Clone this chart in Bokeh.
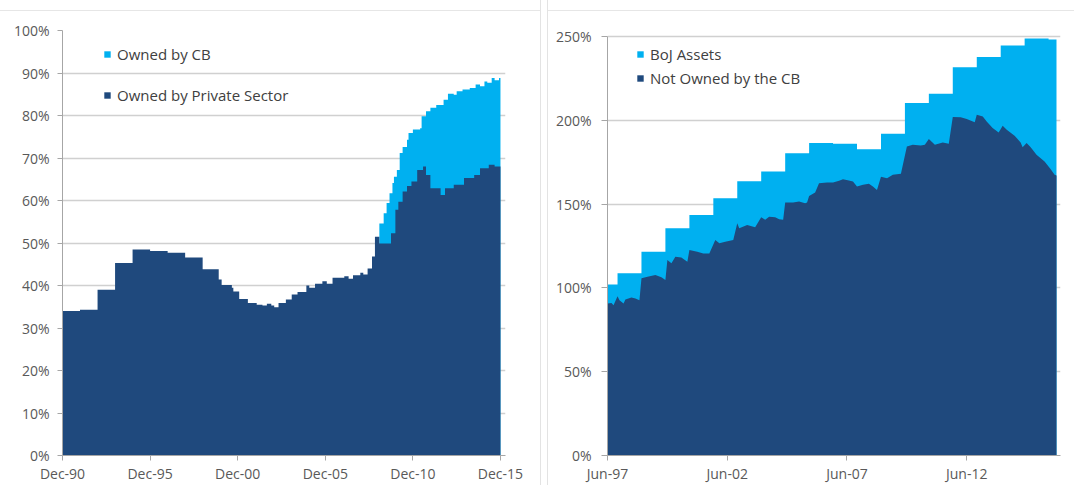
import pandas as pd
from bokeh.plotting import figure
from bokeh.layouts import row
from bokeh.models import (FixedTicker, DatetimeTickFormatter, PrintfTickFormatter,
                          Range1d, Legend, LegendItem)
from bokeh.embed import file_html
from bokeh.resources import INLINE

DARK = "#1F497D"
LIGHT = "#00B0F0"
FONT = "Open Sans"

# ---------------- Left panel data (% ) ----------------
left_private_dates = ["1990-12", "1991-12", "1992-12", "1993-12", "1994-12", "1995-12", "1996-12",
                      "1997-12", "1998-12", "1999-11", "2000-01", "2000-08", "2000-09", "2001-01",
                      "2001-07", "2002-01", "2002-05", "2002-08", "2002-11", "2003-01", "2003-04",
                      "2003-09", "2004-01", "2004-05", "2004-11", "2005-01", "2005-05", "2005-10",
                      "2006-01", "2006-05", "2007-01", "2007-04", "2007-07", "2007-12", "2008-02",
                      "2008-05", "2008-08", "2008-10", "2009-01", "2009-09", "2009-12", "2010-02",
                      "2010-05", "2010-08", "2010-11", "2011-03", "2011-07", "2011-09", "2011-12",
                      "2012-07", "2012-10", "2013-04", "2013-11", "2014-06", "2014-10", "2015-04",
                      "2015-08", "2015-12"]
left_private = [34.0, 34.3, 39.0, 45.3, 48.5, 48.1, 47.7, 46.6, 43.8, 41.4, 40.1, 39.5, 38.6, 36.8,
                35.9, 35.5, 35.3, 35.7, 35.3, 34.9, 35.9, 36.7, 37.9, 38.5, 40.0, 39.5, 40.4, 41.0,
                40.4, 41.8, 42.2, 41.6, 42.4, 43.0, 42.6, 44.0, 46.8, 51.5, 49.9, 52.3, 57.8, 59.7,
                62.1, 63.4, 64.5, 67.2, 68.0, 66.0, 62.9, 61.3, 62.9, 63.7, 65.3, 66.0, 67.6, 68.4,
                68.0, 68.0]

left_total_dates = ["2009-01", "2009-04", "2009-06", "2009-08", "2009-10", "2009-11", "2010-01",
                    "2010-03", "2010-05", "2010-08", "2010-09", "2010-12", "2011-05", "2011-06",
                    "2011-09", "2011-12", "2012-04", "2012-09", "2012-12", "2013-04", "2013-06",
                    "2013-10", "2014-03", "2014-07", "2014-10", "2015-01", "2015-03", "2015-06",
                    "2015-08", "2015-11", "2015-12"]
left_total = [54.6, 57.0, 59.4, 61.7, 64.1, 65.6, 67.2, 71.2, 72.6, 74.3, 75.9, 76.7, 77.0, 79.8,
              81.0, 81.8, 82.5, 83.7, 85.1, 84.9, 85.7, 86.1, 86.5, 87.3, 86.9, 88.0, 87.7, 88.8,
              88.3, 88.8, 88.8]

left_tick_dates = ["1990-12", "1995-12", "2000-12", "2005-12", "2010-12", "2015-12"]
left_y_ticks = [0, 10, 20, 30, 40, 50, 60, 70, 80, 90, 100]
left_labels = ["Owned by CB", "Owned by Private Sector"]

# ---------------- Right panel data (%) ----------------
right_dark_dates = ["1997-06", "1997-08", "1997-09", "1997-11", "1997-12", "1998-02", "1998-03",
                    "1998-06", "1998-08", "1998-10", "1998-11", "1999-02", "1999-06", "1999-09",
                    "1999-11", "1999-12", "2000-02", "2000-04", "2000-07", "2000-10", "2000-11",
                    "2001-03", "2001-06", "2001-09", "2001-12", "2002-02", "2002-05", "2002-09",
                    "2002-11", "2002-12", "2003-04", "2003-08", "2003-11", "2004-01", "2004-03",
                    "2004-06", "2004-08", "2004-10", "2004-11", "2005-03", "2005-06", "2005-09",
                    "2005-10", "2005-11", "2006-02", "2006-04", "2006-08", "2006-11", "2007-02",
                    "2007-04", "2007-07", "2007-09", "2007-11", "2008-02", "2008-05", "2008-07",
                    "2008-09", "2008-11", "2009-02", "2009-05", "2009-09", "2009-12", "2010-03",
                    "2010-07", "2010-09", "2010-11", "2011-02", "2011-06", "2011-09", "2011-11",
                    "2012-03", "2012-06", "2012-10", "2012-11", "2013-02", "2013-04", "2013-07",
                    "2013-10", "2013-12", "2014-02", "2014-06", "2014-09", "2014-10", "2014-12",
                    "2015-02", "2015-05", "2015-09", "2015-12", "2016-02", "2016-03"]
right_dark = [90.7, 91.0, 89.7, 95.1, 92.7, 90.7, 93.1, 94.3, 93.7, 92.7,
              105.7, 106.6, 107.7, 106.3, 104.7, 116.6, 114.7, 118.6, 118.2, 115.6,
              122.6, 121.6, 120.6, 120.6, 128.6, 126.6, 127.6, 128.6, 138.6, 135.6,
              137.6, 136.2, 142.2, 140.6, 142.5, 142.2, 141.0, 140.6, 150.9, 150.9,
              151.5, 150.5, 150.9, 154.9, 156.9, 162.5, 162.9, 162.9, 163.9, 164.9,
              164.1, 163.5, 160.5, 161.5, 162.1, 160.5, 158.5, 166.4, 165.5, 167.5,
              168.1, 184.4, 185.4, 185.0, 185.4, 188.8, 185.4, 186.8, 186.0, 202.0,
              201.8, 200.8, 198.8, 203.3, 202.3, 199.3, 195.4, 192.8, 196.8, 194.4,
              190.8, 186.8, 184.0, 186.4, 184.0, 179.4, 175.4, 170.9, 167.5, 167.1]

right_total_dates = ["1997-06", "1997-11", "1998-11", "1999-11", "2000-11", "2001-11", "2002-11",
                     "2003-11", "2004-11", "2005-11", "2006-11", "2007-11", "2008-11", "2009-11",
                     "2010-11", "2011-11", "2012-11", "2013-11", "2014-11", "2015-11", "2016-03"]
right_total = [102.1, 108.7, 121.6, 135.6, 143.5, 153.5, 163.7, 169.5, 180.4, 186.4, 186.0,
               182.8, 192.0, 210.3, 215.9, 231.6, 237.8, 244.6, 248.8, 248.2, 248.2]

right_tick_dates = ["1997-06", "2002-06", "2007-06", "2012-06"]
right_y_ticks = [0, 50, 100, 150, 200, 250]
right_labels = ["BoJ Assets", "Not Owned by the CB"]


def ts(v):
    return pd.to_datetime(v, format="%Y-%m")


def ms(v):
    return [int(t.timestamp() * 1000) for t in ts(v)]


def style(p, xticks, yticks, tick_out, y_standoff):
    fmt = "%b-%y"
    p.xaxis.ticker = FixedTicker(ticks=ms(xticks))
    p.xaxis.formatter = DatetimeTickFormatter(years=fmt, months=fmt, days=fmt, hours=fmt)
    p.yaxis.ticker = FixedTicker(ticks=yticks)
    p.yaxis.formatter = PrintfTickFormatter(format="%d%%")
    p.yaxis.bounds = (yticks[0], yticks[-1])
    for ax in (p.xaxis, p.yaxis):
        ax.axis_line_color = "#a6a6a6"
        ax.major_tick_line_color = "#a6a6a6"
        ax.major_tick_in = 0
        ax.minor_tick_line_color = None
        ax.major_label_text_font = FONT
        ax.major_label_text_font_size = "14px"
        ax.major_label_text_color = "#595959"
    p.xaxis.major_tick_out = 5
    p.yaxis.major_tick_out = tick_out
    p.xaxis.major_label_standoff = 3
    p.yaxis.major_label_standoff = y_standoff
    p.xgrid.grid_line_color = None
    p.ygrid.grid_line_color = "#d0d0d0"
    p.ygrid.grid_line_width = 1.5
    p.outline_line_color = None
    p.background_fill_color = "white"
    p.border_fill_color = None


def make_legend(items, loc, spacing):
    return Legend(items=items, location=loc, orientation="vertical",
                  glyph_width=8, glyph_height=8, label_height=20, spacing=spacing,
                  padding=0, margin=0, border_line_color=None, background_fill_alpha=0,
                  label_text_font=FONT, label_text_font_size="15px",
                  label_text_color="#404040", label_standoff=6)


PANEL_BG = ("linear-gradient(#e6e6e6, #e6e6e6) 0 10px / 100% 1px no-repeat, white")

# ---------------- Left figure ----------------
p1 = figure(width=540, height=485, x_axis_type="datetime", output_backend="svg",
            toolbar_location=None,
            x_range=Range1d(pd.Timestamp("1990-12-01"), pd.Timestamp("2016-03-15")),
            y_range=Range1d(0, 100),
            min_border_left=62, min_border_right=35, min_border_top=30, min_border_bottom=25)
r_cb = p1.varea_step(x=ts(left_total_dates), y1=0, y2=left_total, step_mode="after",
                     fill_color=LIGHT)
r_priv = p1.varea_step(x=ts(left_private_dates), y1=0, y2=left_private, step_mode="after",
                       fill_color=DARK)
style(p1, left_tick_dates, left_y_ticks, 5, 8)
p1.add_layout(make_legend([LegendItem(label=left_labels[0], renderers=[r_cb]),
                           LegendItem(label=left_labels[1], renderers=[r_priv])],
                          (41, 350), 21))
p1.styles = {"box-shadow": "1px 0 0 0 #e3e3e3", "background": PANEL_BG}

# ---------------- Right figure ----------------
p2 = figure(width=526, height=485, x_axis_type="datetime", output_backend="svg",
            toolbar_location=None,
            x_range=Range1d(pd.Timestamp("1997-06-01"), pd.Timestamp("2016-05-01")),
            y_range=Range1d(0, 253.6),
            min_border_left=59, min_border_right=14, min_border_top=30, min_border_bottom=25)
r_boj = p2.varea_step(x=ts(right_total_dates), y1=0, y2=right_total, step_mode="after",
                      fill_color=LIGHT)
r_not = p2.varea(x=ts(right_dark_dates), y1=0, y2=right_dark, fill_color=DARK)
style(p2, right_tick_dates, right_y_ticks, 6, 10)
p2.background_fill_color = None
p2.add_layout(make_legend([LegendItem(label=right_labels[0], renderers=[r_boj]),
                           LegendItem(label=right_labels[1], renderers=[r_not])],
                          (29, 367), 4))
p2.styles = {"box-shadow": "-1px 0 0 0 #e3e3e3", "background": PANEL_BG}

layout = row(p1, p2, spacing=8)
open("out.html", "w").write(file_html(layout, INLINE))
